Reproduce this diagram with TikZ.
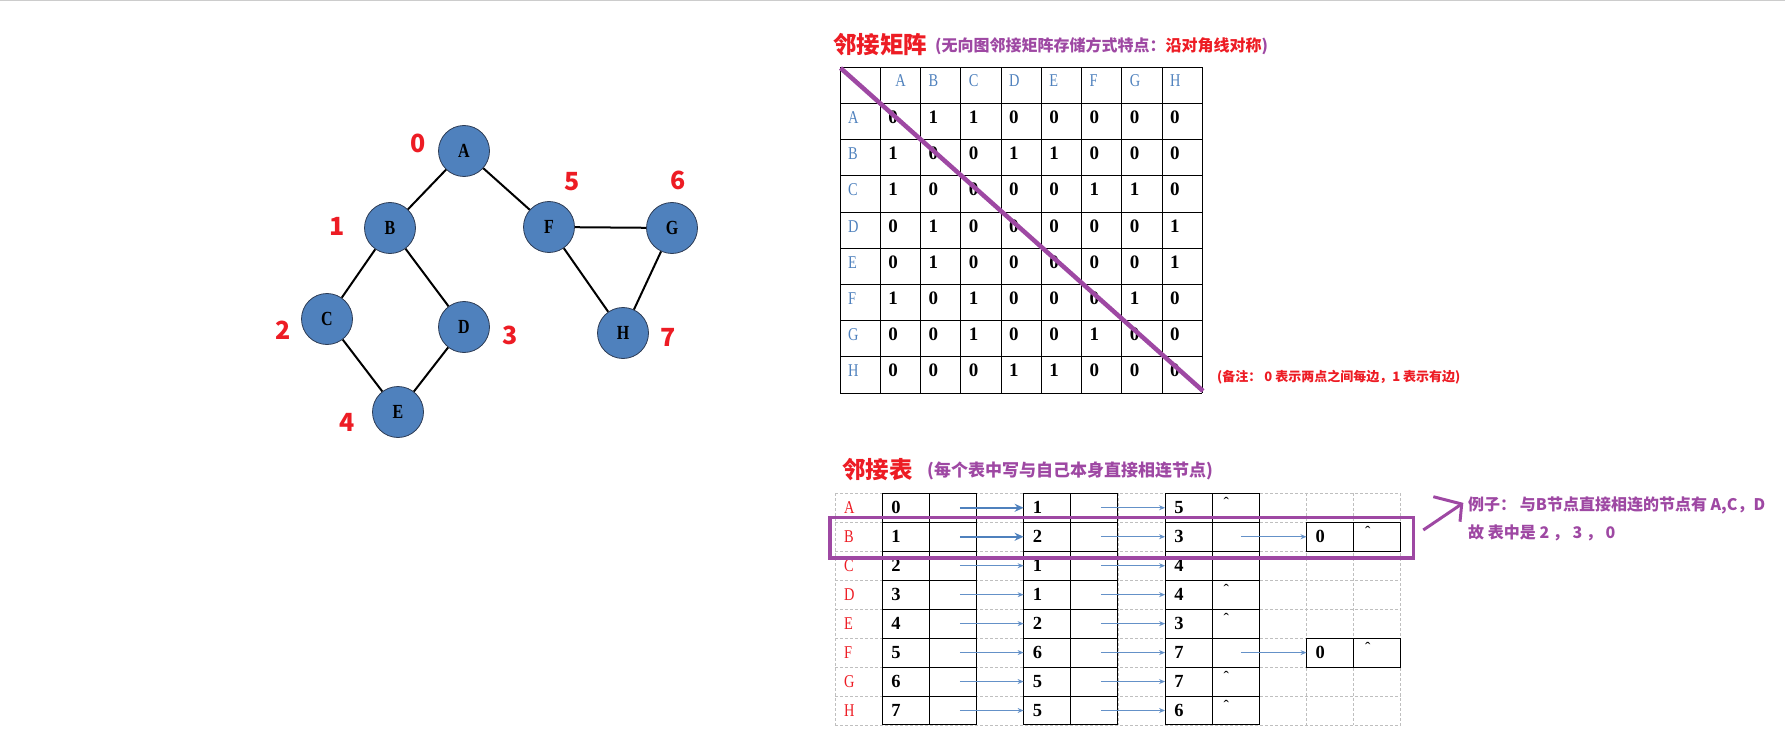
\documentclass[tikz,border=0pt]{standalone}
\usepackage{fontspec}
\setmainfont{Liberation Serif}
\newfontfamily\cjk{Noto Sans CJK SC}
\newfontfamily\nserif{Liberation Serif}[FakeStretch=0.8]
\usetikzlibrary{arrows.meta}
\definecolor{gblue}{RGB}{79,129,189}
\definecolor{gborder}{RGB}{45,60,85}
\definecolor{myred}{RGB}{237,28,36}
\definecolor{mypurple}{RGB}{158,72,163}
\definecolor{arrblue}{RGB}{79,129,189}
\definecolor{arrblue2}{RGB}{100,145,200}
\tikzset{
  gnode/.style={circle, fill=gblue, draw=gborder, line width=0.8pt, minimum size=51pt, inner sep=0pt,
    font=\nserif\bfseries\fontsize{20}{22}\selectfont},
  gedge/.style={line width=2pt, black},
  glab/.style={text=myred, inner sep=0pt, font=\cjk\bfseries\fontsize{25}{27}\selectfont},
  title/.style={anchor=west, inner sep=0pt, text=myred, font=\cjk\bfseries\fontsize{23.5}{26}\selectfont},
  subt/.style={anchor=west, inner sep=0pt, text=mypurple, font=\cjk\bfseries\fontsize{16}{18}\selectfont},
  mline/.style={line width=1pt, black},
  hdr/.style={anchor=base west, inner sep=0pt, text=gblue, font=\nserif\fontsize{18}{20}\selectfont},
  mval/.style={anchor=base west, inner sep=0pt, font=\bfseries\fontsize{19}{21}\selectfont},
  rlab/.style={anchor=base west, inner sep=0pt, text=myred, font=\nserif\fontsize{18}{20}\selectfont},
  lval/.style={anchor=base west, inner sep=0pt, font=\bfseries\fontsize{18.5}{20}\selectfont},
  caret/.style={anchor=base, inner sep=0pt, font=\fontsize{16}{18}\selectfont},
  cell/.style={draw=black, line width=1pt, minimum width=47.15pt, minimum height=28.96pt, inner sep=0pt, outer sep=0pt},
  gridd/.style={draw=black!25, line width=0.8pt, dash pattern=on 3pt off 2pt},
  arrthick/.style={draw=arrblue, line width=2.4pt, -{Stealth[length=9pt,width=8pt]}},
  arrthin/.style={draw=arrblue2, line width=1.2pt, -{Stealth[length=6pt,width=5pt]}},
  hlpen/.style={draw=mypurple, line width=3.5pt},
  diagline/.style={draw=mypurple, line width=4.5pt},
}
\begin{document}
\begin{tikzpicture}[x=1pt,y=-1pt]
\useasboundingbox (0,0) rectangle (1785,754);
\coordinate (tl0) at (0,0.7);
\coordinate (tl1) at (1785,0.7);
\draw[black!20, line width=1.4pt] (tl0) -- (tl1);

% ---------------- graph ----------------
\node[gnode] (A) at (464,151) {A};
\node[gnode] (B) at (390,228) {B};
\node[gnode] (C) at (327,319) {C};
\node[gnode] (D) at (464,327) {D};
\node[gnode] (E) at (398,412) {E};
\node[gnode] (F) at (549,227) {F};
\node[gnode] (G) at (672,228) {G};
\node[gnode] (H) at (623,333) {H};
\draw[gedge] (A) -- (B);
\draw[gedge] (A) -- (F);
\draw[gedge] (B) -- (C);
\draw[gedge] (B) -- (D);
\draw[gedge] (C) -- (E);
\draw[gedge] (D) -- (E);
\draw[gedge] (F) -- (G);
\draw[gedge] (F) -- (H);
\draw[gedge] (G) -- (H);
\node[glab] (n0) at (418,143) {0};
\node[glab] (n1) at (337,226) {1};
\node[glab] (n2) at (283,330) {2};
\node[glab] (n3) at (510,335) {3};
\node[glab] (n4) at (347,422) {4};
\node[glab] (n5) at (572,182) {5};
\node[glab] (n6) at (678,180) {6};
\node[glab] (n7) at (668,337) {7};

% ---------------- adjacency matrix ----------------
\node[title] (t1) at (833,45) {邻接矩阵};
\node[subt] (s1) at (935,46) {(无向图邻接矩阵存储方式特点：\textcolor{myred}{沿对角线对称})};
\foreach \k in {0,...,9} {
  \draw[mline] (840+40.25*\k,67.3) -- (840+40.25*\k,393.1);
  \draw[mline] (840,67.3+36.2*\k) -- (1202.25,67.3+36.2*\k);
}
\foreach \h [count=\c] in {A,B,C,D,E,F,G,H} {
  \ifnum\c=1
    \node[hdr] (mh-\c) at (840+40.25*\c+15,86.3) {\h};
  \else
    \node[hdr] (mh-\c) at (840+40.25*\c+8,86.3) {\h};
  \fi
}
\foreach \r/\lab/\vals in {0/A/{0,1,1,0,0,0,0,0},1/B/{1,0,0,1,1,0,0,0},2/C/{1,0,0,0,0,1,1,0},3/D/{0,1,0,0,0,0,0,1},4/E/{0,1,0,0,0,0,0,1},5/F/{1,0,1,0,0,0,1,0},6/G/{0,0,1,0,0,1,0,0},7/H/{0,0,0,1,1,0,0,0}} {
  \pgfmathsetmacro\yt{67.3+36.2*(\r+1)}
  \node[hdr] (mr-\r) at (848,\yt+20) {\lab};
  \foreach \v [count=\c] in \vals {
    \node[mval] (m-\r-\c) at (840+40.25*\c+8,\yt+20) {\v};
  }
}
\coordinate (dg1) at (840.5,68);
\coordinate (dg2) at (1203,391);
\draw[diagline] (dg1) -- (dg2);
\node[anchor=west, inner sep=0pt, text=myred, font=\cjk\bfseries\fontsize{13}{15}\selectfont] (note) at (1217,377) {(备注： 0 表示两点之间每边，1 表示有边)};

% ---------------- adjacency list ----------------
\node[title] (t2) at (842,470) {邻接表};
\node[subt, font=\cjk\bfseries\fontsize{17}{19}\selectfont] (s2) at (927,471) {(每个表中写与自己本身直接相连节点)};
\foreach \k in {0,...,12} {
  \draw[gridd] (835+47.15*\k,493.3) -- (835+47.15*\k,725);
}
\foreach \k in {0,...,8} {
  \draw[gridd] (835,493.3+28.96*\k) -- (1400.8,493.3+28.96*\k);
}
\foreach \r/\lab/\a/\b/\cc/\last in {0/A/0/1/5/1,1/B/1/2/3/2,2/C/2/1/4/0,3/D/3/1/4/1,4/E/4/2/3/1,5/F/5/6/7/2,6/G/6/5/7/1,7/H/7/5/6/1} {
  \pgfmathsetmacro\yt{493.3+28.96*\r}
  \pgfmathsetmacro\yc{\yt+14.48}
  \foreach \c in {1,2,4,5,7,8} {
    \node[cell] (L-\r-\c) at (835+47.15*\c+23.575,\yc) {};
  }
  \node[rlab] (lr-\r) at (844,\yt+20.5) {\lab};
  \node[lval] (lv-\r-1) at (835+47.15*1+9,\yt+20.5) {\a};
  \node[lval] (lv-\r-4) at (835+47.15*4+9,\yt+20.5) {\b};
  \node[lval] (lv-\r-7) at (835+47.15*7+9,\yt+20.5) {\cc};
  \ifnum\r<2
    \draw[arrthick] ([xshift=7pt]L-\r-2.center) -- (L-\r-4.west);
  \else
    \draw[arrthin] ([xshift=7pt]L-\r-2.center) -- (L-\r-4.west);
  \fi
  \draw[arrthin] ([xshift=6.5pt]L-\r-5.center) -- (L-\r-7.west);
  \ifnum\last=1
    \node[caret] (lc-\r) at (835+47.15*8+14,\yt+15) {ˆ};
  \fi
  \ifnum\last=2
    \node[cell] (L-\r-10) at (835+47.15*10+23.575,\yc) {};
    \node[cell] (L-\r-11) at (835+47.15*11+23.575,\yc) {};
    \node[lval] (lv-\r-10) at (835+47.15*10+9,\yt+20.5) {0};
    \node[caret] (lc-\r) at (835+47.15*11+14,\yt+15) {ˆ};
    \draw[arrthin] ([xshift=5pt]L-\r-8.center) -- (L-\r-10.west);
  \fi
}
\coordinate (hl1) at (830,517.7);
\coordinate (hl2) at (1413.3,557.8);
\draw[hlpen] (hl1) rectangle (hl2);
\coordinate (ex0) at (1423.3,530);
\coordinate (ex1) at (1461.7,504);
\coordinate (ex2) at (1433.3,496.7);
\coordinate (ex3) at (1460,521.7);
\draw[hlpen, line width=3pt] (ex0) -- (ex1);
\draw[hlpen, line width=3pt] (ex2) -- (ex1) -- (ex3);
\node[subt] (ex-a) at (1468,505) {例子： 与B节点直接相连的节点有 A,C，D};
\node[subt] (ex-b) at (1468,533) {故 表中是 2 ， 3 ， 0};
\end{tikzpicture}
\end{document}
